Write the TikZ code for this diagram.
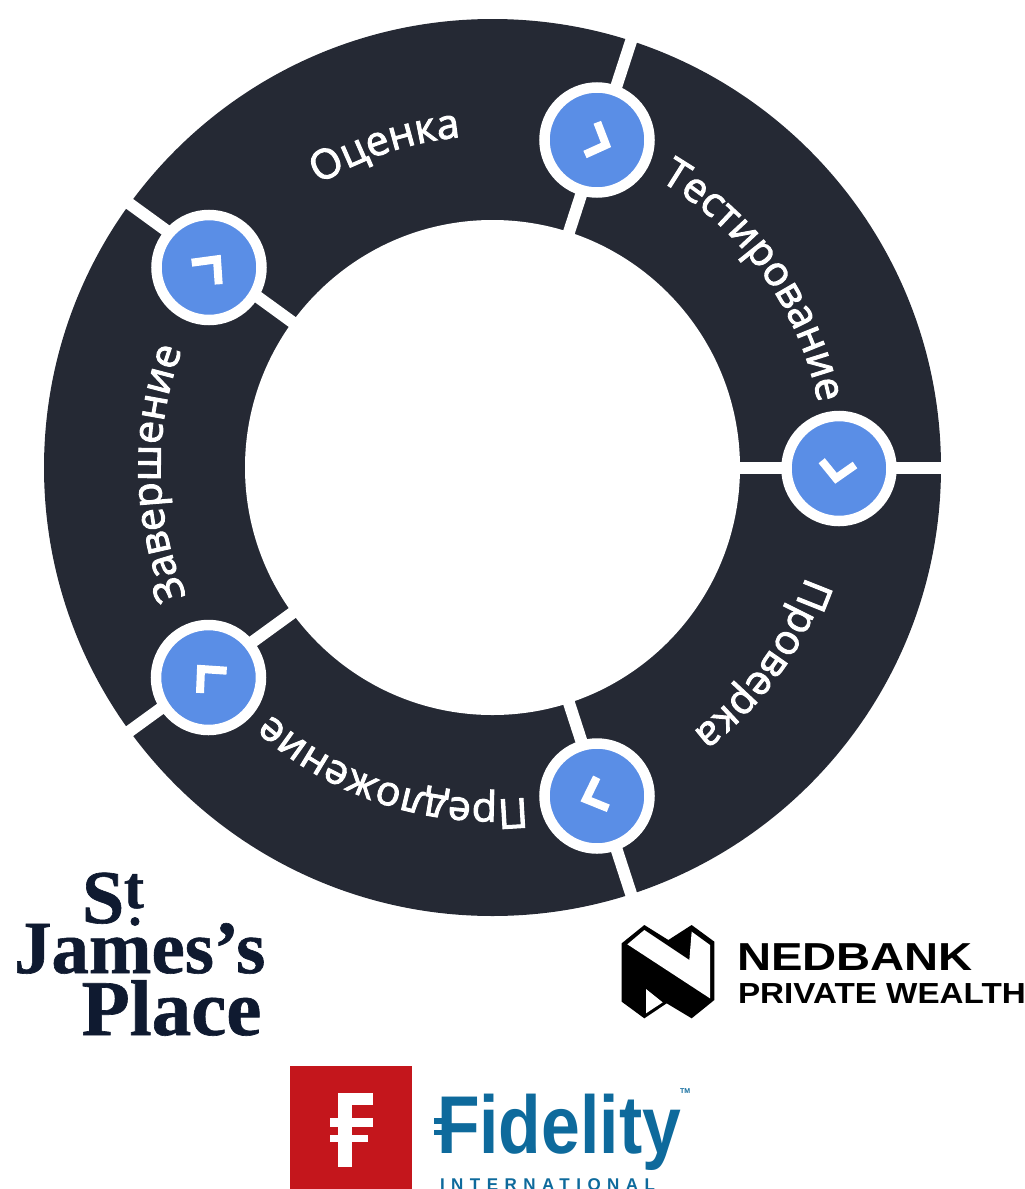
\documentclass[tikz,border=0pt]{standalone}
\usepackage{fontspec}
\usetikzlibrary{decorations.text}
\setmainfont{Open Sans}
\newfontfamily\lblfam[FakeBold=2.4]{Open Sans}
\newfontfamily\serifb[FakeBold=0.8]{Liberation Serif Bold}
\newfontfamily\sansb{Liberation Sans Bold}
\newfontfamily\sansbs[LetterSpace=38]{Liberation Sans Bold}
\newcommand\lblfont{\lblfam\fontsize{41}{41}\selectfont}
\definecolor{ringdark}{HTML}{252934}
\definecolor{chipblue}{HTML}{5A8EE6}
\definecolor{sjpnavy}{HTML}{0F1A30}
\definecolor{fidblue}{HTML}{0E6A9C}
\definecolor{fidred}{HTML}{C4161C}
\tikzset{
  x=1pt,y=1pt,
  ringdisc/.style={circle,fill=ringdark,minimum size=897pt,inner sep=0pt},
  ringhole/.style={circle,fill=white,minimum size=495pt,inner sep=0pt},
  sepline/.style={draw=white,line width=12pt},
  chip/.style={circle,fill=chipblue,draw=white,line width=10.5pt,minimum size=105pt,inner sep=0pt},
  chev/.style={draw=white,line width=8pt,miter limit=10},
  logotext/.style={anchor=base west,inner sep=0pt,outer sep=0pt},
}
\newcommand\arclabel[2]{%
  \path[decorate,decoration={text along path,text align=center,
    text={|\lblfont\color{white}|#2}}]
    ({#1+38}:332) arc[start angle={#1+38},end angle={#1-38},radius=332];}
\begin{document}
\begin{tikzpicture}
\useasboundingbox (0,0) rectangle (1025,-1189);
\begin{scope}
\clip (0,0) rectangle (1025,-1189);
\node[ringdisc] (ring) at (492.5,-467.5) {};
\node[ringhole] (hole) at (492.5,-467.5) {};
\begin{scope}[shift={(492.5,-467.5)}]
  \foreach \i in {0,1,2,3,4} {
    \coordinate (in\i) at ({72*\i}:240);
    \coordinate (out\i) at ({72*\i}:458);
    \draw[sepline] (in\i) -- (out\i);
  }
  \arclabel{108.5}{Оценка}
  \arclabel{35.5}{Тестирование}
  \arclabel{-36}{Проверка}
  \arclabel{-108}{Предложение}
  \arclabel{181}{Завершение}
\end{scope}
\node[chip] (chipa) at (839,-468.5) {};
\node[chip] (chipb) at (597,-140) {};
\node[chip] (chipc) at (209,-267.5) {};
\node[chip] (chipd) at (208.5,-677.5) {};
\node[chip] (chipe) at (597,-796) {};
\draw[chev] (821.7,-460.7) -- (836,-478.3) -- (855,-465);
\draw[chev] (597.3,-122.3) -- (606,-145) -- (585,-154.5);
\draw[chev] (191.7,-262.7) -- (217,-259.3) -- (218.7,-284.3);
\draw[chev] (226.7,-670.7) -- (201,-669) -- (200,-693);
\draw[chev] (596.7,-777.3) -- (586,-799.3) -- (608.3,-808.3);
% St James's Place
\node[logotext,text=sjpnavy,font=\serifb\fontsize{76}{76}\selectfont] (stS) at (82,-923) {S};
\node[logotext,text=sjpnavy,font=\serifb\fontsize{60}{60}\selectfont] (stT) at (124,-908) {t};
\node[circle,fill=sjpnavy,minimum size=9pt,inner sep=0pt] (stDot) at (135,-921.5) {};
\node[logotext,text=sjpnavy,font=\serifb\fontsize{75}{75}\selectfont] (james) at (14,-973) {James’s};
\node[logotext,text=sjpnavy,font=\serifb\fontsize{79}{79}\selectfont] (place) at (81.5,-1035) {Place};
% Nedbank emblem
\begin{scope}[shift={(610,-915)},x=1pt/3,y=-1pt/3]
  \fill[black] (35,85)--(103,30)--(175,75)--(245,30)--(313,80)--(313,255)--(245,310)--(170,265)--(103,310)--(35,260)--cycle;
  \fill[white] (52,88)--(103,45)--(238,135)--(245,50)--(300,90)--(300,250)--cycle;
  \fill[white] (108,222)--(158,262)--(108,295)--cycle;
\end{scope}
\node[logotext,font=\sansb\fontsize{39}{39}\selectfont,xscale=1.21] (ned) at (737,-970) {NEDBANK};
\node[logotext,font=\sansb\fontsize{29}{29}\selectfont,xscale=1.145] (pw) at (738,-1003) {PRIVATE WEALTH};
% Fidelity
\node[fill=fidred,minimum width=122pt,minimum height=124pt,inner sep=0pt,anchor=north west] (fidsq) at (290,-1066) {};
\fill[white] (338,-1093) rectangle (352,-1167);
\fill[white] (338,-1093) rectangle (373,-1105);
\fill[white] (330,-1118) rectangle (373,-1127);
\fill[white] (330,-1135) rectangle (368,-1142);
\node[logotext,text=fidblue,font=\sansb\fontsize{82}{82}\selectfont,xscale=.85] (fid) at (437,-1153) {Fidelity};
\fill[fidblue] (434,-1118) rectangle (450,-1124);
\fill[fidblue] (434,-1130) rectangle (450,-1135);
\node[logotext,text=fidblue,font=\sansb\fontsize{7}{7}\selectfont] (tm) at (680,-1093) {TM};
\node[logotext,text=fidblue,font=\sansbs\fontsize{17}{17}\selectfont] (intl) at (440,-1190) {INTERNATIONAL};
\end{scope}
\end{tikzpicture}
\end{document}
